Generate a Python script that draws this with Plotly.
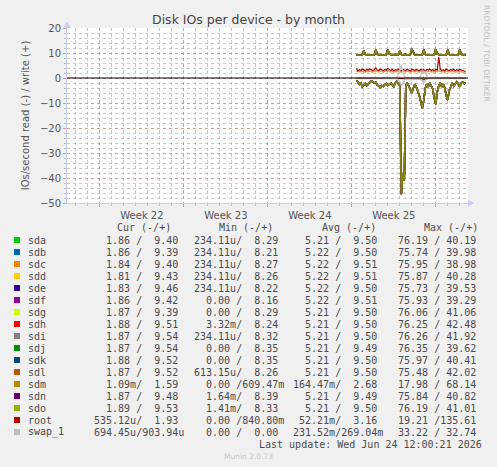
import pandas as pd
import plotly.graph_objects as go

# time axis of the collected samples (3 h steps)
times = pd.date_range("2026-06-15 09:00", "2026-06-24 12:00", freq="3h")

# sda..sdo (except sdm) run almost identical, one series for them
sd_write = [
    9.2, 9.3, 9.2, 9.4, 9.3, 11.0, 9.4, 9.2,
    9.3, 9.2, 9.4, 9.3, 9.2, 11.2, 9.5, 9.3,
    9.2, 9.3, 9.2, 9.4, 9.3, 11.4, 9.6, 9.3,
    9.2, 9.3, 9.4, 9.2, 9.3, 10.8, 9.4, 9.2,
    9.3, 9.5, 9.2, 9.3, 9.4, 11.6, 10.6, 9.3,
    9.2, 9.3, 9.2, 9.4, 9.3, 11.3, 9.4, 9.2,
    9.3, 9.2, 9.4, 9.3, 9.2, 11.5, 9.5, 9.3,
    9.2, 9.3, 9.2, 9.4, 9.3, 11.2, 9.4, 9.2,
    9.3, 9.2, 9.4, 9.3, 9.2, 11.4, 9.5, 9.3,
    9.2, 9.4,
]
sd_read = [
    1.0, 1.5, 2.5, 2.0, 3.5, 3.0, 2.2, 3.0,
    2.5, 1.8, 1.2, 1.5, 2.0, 1.6, 2.8, 3.2,
    3.8, 3.0, 3.4, 2.6, 2.2, 3.0, 2.4, 2.0,
    2.8, 3.4, 2.0, 1.4, 2.2, 3.0, 46.5, 38.0,
    41.0, 3.0, 2.0, 3.5, 4.5, 6.0, 4.0, 2.5,
    3.5, 5.0, 7.0, 9.5, 12.0, 9.0, 4.0, 2.5,
    3.5, 2.0, 3.0, 4.5, 8.0, 10.5, 5.5, 3.0,
    2.0, 3.5, 2.5, 4.0, 7.0, 8.8, 5.0, 3.0,
    2.0, 3.2, 2.4, 1.5, 2.5, 3.5, 2.0, 1.6,
    2.2, 1.8,
]
sdm_write = [
    2.9, 2.5, 2.7, 2.4, 2.8, 2.6, 2.3, 2.7,
    2.5, 2.8, 2.6, 2.3, 2.7, 3.0, 2.5, 2.4,
    2.8, 2.6, 2.3, 2.7, 2.5, 2.9, 2.6, 2.4,
    2.7, 2.3, 2.6, 2.5, 2.8, 2.4, 2.3, 2.7,
    2.6, 2.4, 2.8, 2.5, 2.3, 2.8, 2.6, 2.4,
    2.7, 2.5, 2.3, 2.8, 2.5, 2.6, 2.3, 2.7,
    2.5, 2.8, 2.4, 2.6, 2.3, 2.7, 2.5, 2.9,
    2.7, 2.4, 2.6, 2.3, 2.8, 2.5, 2.4, 2.7,
    2.5, 2.7, 2.3, 2.6, 2.4, 2.7, 2.5, 2.3,
    2.3, 2.1,
]
sdm_read = [
    0.2, 0.1, 0.2, 0.1, 0.2, 0.2, 0.1, 0.2,
    0.1, 0.2, 0.1, 0.2, 0.2, 0.1, 0.2, 0.1,
    0.2, 0.1, 0.2, 0.2, 0.1, 0.2, 0.1, 0.2,
    0.1, 0.2, 0.2, 0.1, 0.2, 0.3, 0.4, 0.3,
    0.2, 0.1, 0.2, 0.1, 0.2, 0.2, 0.1, 0.2,
    0.1, 0.2, 0.2, 0.3, 0.4, 0.3, 0.2, 0.1,
    0.2, 0.1, 0.2, 0.2, 0.1, 0.2, 0.1, 0.2,
    0.1, 0.2, 0.2, 0.1, 0.2, 0.1, 0.2, 0.1,
    0.2, 0.1, 0.2, 0.2, 0.1, 0.2, 0.1, 0.2,
    0.1, 0.2,
]
root_write = [
    3.8, 2.8, 3.4, 3.0, 3.6, 3.2, 2.9, 3.5,
    3.1, 3.7, 3.3, 2.9, 3.4, 4.0, 3.2, 3.0,
    3.6, 3.3, 2.9, 3.4, 3.1, 3.8, 3.2, 3.0,
    3.5, 2.8, 3.3, 3.1, 3.6, 3.0, 2.9, 3.4,
    3.2, 3.0, 3.5, 3.1, 2.8, 3.6, 3.3, 3.0,
    3.4, 3.2, 2.9, 3.5, 3.1, 3.3, 2.8, 3.4,
    3.2, 3.6, 3.0, 3.3, 2.9, 3.5, 3.2, 8.4,
    3.4, 3.0, 3.3, 2.9, 3.6, 3.2, 3.0, 3.4,
    3.1, 3.5, 2.9, 3.3, 3.0, 3.4, 3.2, 2.8,
    2.9, 2.6,
]
root_read = [
    0.1, 0.0, 0.1, 0.0, 0.1, 0.1, 0.0, 0.1,
    0.0, 0.1, 0.0, 0.1, 0.1, 0.0, 0.1, 0.0,
    0.1, 0.0, 0.1, 0.1, 0.0, 0.1, 0.0, 0.1,
    0.0, 0.1, 0.1, 0.0, 0.1, 0.2, 0.3, 0.2,
    0.1, 0.0, 0.1, 0.0, 0.1, 0.1, 0.0, 0.1,
    0.0, 0.1, 0.2, 0.3, 0.8, 0.6, 0.7, 0.2,
    0.1, 0.0, 0.1, 0.1, 0.0, 0.1, 0.0, 0.1,
    0.0, 0.1, 0.1, 0.0, 0.1, 0.0, 0.1, 0.0,
    0.1, 0.0, 0.1, 0.1, 0.0, 0.1, 0.0, 0.1,
    0.0, 0.1,
]
swap_write = [
    0.0, 0.0, 0.0, 0.0, 0.0, 0.0, 0.0, 0.0,
    0.0, 0.0, 0.0, 0.0, 0.0, 0.0, 0.0, 0.0,
    0.0, 0.0, 0.0, 0.0, 0.0, 0.0, 0.0, 0.0,
    0.0, 0.0, 0.0, 0.3, 1.5, 3.0, 5.0, 2.5,
    0.8, 0.1, 0.0, 0.0, 0.0, 0.0, 0.0, 0.0,
    0.0, 0.0, 0.2, 0.8, 3.0, 2.0, 2.8, 0.5,
    0.0, 0.0, 0.0, 0.0, 0.0, 0.0, 0.0, 0.0,
    0.0, 0.0, 0.0, 0.0, 0.0, 0.0, 0.0, 0.0,
    0.0, 0.0, 0.0, 0.0, 0.0, 0.0, 0.0, 0.0,
    0.0, 0.0,
]
swap_read = [
    0.0, 0.0, 0.0, 0.0, 0.0, 0.0, 0.0, 0.0,
    0.0, 0.0, 0.0, 0.0, 0.0, 0.0, 0.0, 0.0,
    0.0, 0.0, 0.0, 0.0, 0.0, 0.0, 0.0, 0.0,
    0.0, 0.0, 0.0, 0.2, 0.6, 1.5, 3.0, 2.0,
    1.0, 0.1, 0.0, 0.0, 0.0, 0.0, 0.0, 0.0,
    0.0, 0.0, 0.1, 0.4, 1.0, 1.8, 0.8, 0.2,
    0.0, 0.0, 0.0, 0.0, 0.0, 0.0, 0.0, 0.0,
    0.0, 0.0, 0.0, 0.0, 0.0, 0.0, 0.0, 0.0,
    0.0, 0.0, 0.0, 0.0, 0.0, 0.0, 0.0, 0.0,
    0.0, 0.0,
]

# legend table
names = ["sda", "sdb", "sdc", "sdd", "sde", "sdf", "sdg", "sdh", "sdi",
         "sdj", "sdk", "sdl", "sdm", "sdn", "sdo", "root", "swap_1"]
colors = ["#00CC00", "#0066B3", "#FF8000", "#FFCC00", "#330099", "#990099",
          "#CCFF00", "#FF0000", "#808080", "#008F00", "#00487D", "#B35A00",
          "#B38F00", "#6B006B", "#8FB300", "#B30000", "#BEBEBE"]
cur_read = ["1.86", "1.86", "1.84", "1.81", "1.83", "1.86", "1.87", "1.88", "1.87",
            "1.87", "1.88", "1.87", "1.09m", "1.87", "1.89", "535.12u", "694.45u"]
cur_write = ["9.40", "9.39", "9.40", "9.43", "9.46", "9.42", "9.39", "9.51", "9.54",
             "9.54", "9.52", "9.52", "1.59", "9.48", "9.53", "1.93", "903.94u"]
min_read = ["234.11u", "234.11u", "234.11u", "234.11u", "234.11u", "0.00", "0.00",
            "3.32m", "234.11u", "0.00", "0.00", "613.15u", "0.00", "1.64m", "1.41m",
            "0.00", "0.00"]
min_write = ["8.29", "8.21", "8.27", "8.26", "8.22", "8.16", "8.29", "8.24", "8.32",
             "8.35", "8.35", "8.26", "609.47m", "8.39", "8.33", "840.80m", "0.00"]
avg_read = ["5.21", "5.22", "5.22", "5.22", "5.22", "5.22", "5.21", "5.21", "5.21",
            "5.21", "5.21", "5.21", "164.47m", "5.21", "5.21", "52.21m", "231.52m"]
avg_write = ["9.50", "9.50", "9.51", "9.51", "9.50", "9.51", "9.50", "9.50", "9.50",
             "9.49", "9.50", "9.50", "2.68", "9.49", "9.50", "3.16", "269.04m"]
max_read = ["76.19", "75.74", "75.95", "75.87", "75.73", "75.93", "76.06", "76.25", "76.26",
            "76.35", "75.97", "75.48", "17.98", "75.84", "76.19", "19.21", "33.22"]
max_write = ["40.19", "39.98", "38.98", "40.28", "39.53", "39.29", "41.06", "42.48", "41.92",
             "39.62", "40.41", "42.02", "68.14", "40.82", "41.01", "135.61", "32.74"]

NB = "\u00a0"
MONO = "DejaVu Sans Mono"
SANS = "DejaVu Sans"
TXT = "#4a4a4a"

# plot area in pixels
L, R, T, B = 67, 468, 28, 203
W, H = 497, 467


def px(x):
    return (x - L) / (R - L)


def py(y):
    return (B - y) / (B - T)


def num(v):
    # rrdtool style "%6.2lf%s": number right-aligned to 6, then SI prefix or blank
    if v[-1].isalpha():
        return v[:-1].rjust(6) + v[-1]
    return v.rjust(6) + " "


def cell(r, w):
    return (num(r) + "/" + num(w)).replace(" ", NB)


fig = go.Figure()

series = {}
for n in names:
    if n == "sdm":
        series[n] = (sdm_read, sdm_write)
    elif n == "root":
        series[n] = (root_read, root_write)
    elif n == "swap_1":
        series[n] = (swap_read, swap_write)
    else:
        series[n] = (sd_read, sd_write)

for n, c in zip(names, colors):
    rd, wr = series[n]
    is_sd = n.startswith("sd")
    style = dict(color=c, width=1.5 if is_sd else 1.2)
    fig.add_trace(go.Scatter(x=times, y=[-v for v in rd], mode="lines", line=style,
                             opacity=0.7 if is_sd else 1, hoverinfo="skip"))
    fig.add_trace(go.Scatter(x=times, y=wr, mode="lines", line=style,
                             opacity=0.7 if is_sd else 1, hoverinfo="skip"))

red_grid = "rgba(225,120,120,0.8)"
gray_grid = "rgba(175,175,175,0.7)"
axis_col = "#c8cbf0"

shapes = [
    dict(type="line", xref="paper", yref="y", x0=0, x1=1, y0=0, y1=0,
         line=dict(color="black", width=1), layer="above"),
    dict(type="path", xref="paper", yref="paper", fillcolor=axis_col, line=dict(width=0),
         path=f"M {px(468)} {py(199.5)} L {px(474)} {py(203)} L {px(468)} {py(206.5)} Z"),
    dict(type="path", xref="paper", yref="paper", fillcolor=axis_col, line=dict(width=0),
         path=f"M {px(63.5)} {py(28)} L {px(67)} {py(21.5)} L {px(70.5)} {py(28)} Z"),
]

annotations = []
row0, step = 240, 12
headers = [("Cur (-/+)", 116), ("Min (-/+)", 218), ("Avg (-/+)", 321), ("Max (-/+)", 423)]
for h, x0 in headers:
    annotations.append(dict(text=h.replace(" ", NB), x=px(x0), y=py(227.3), xref="paper",
                            yref="paper", xanchor="left", yanchor="middle", showarrow=False,
                            borderpad=0, font=dict(family=MONO, size=10, color=TXT)))

cols = [(cur_read, cur_write, 184.5), (min_read, min_write, 284.5),
        (avg_read, avg_write, 384), (max_read, max_write, 483)]
for i, (n, c) in enumerate(zip(names, colors)):
    yc = row0 + i * step
    shapes.append(dict(type="rect", xref="paper", yref="paper", x0=px(14), x1=px(20),
                       y0=py(yc + 3), y1=py(yc - 3), fillcolor=c, line=dict(width=0)))
    annotations.append(dict(text=n, x=px(26.5), y=py(yc), xref="paper", yref="paper",
                            xanchor="left", yanchor="middle", showarrow=False, borderpad=0,
                            font=dict(family=MONO, size=10, color=TXT)))
    for rd, wr, xr in cols:
        annotations.append(dict(text=cell(rd[i], wr[i]), x=px(xr), y=py(yc), xref="paper",
                                yref="paper", xanchor="right", yanchor="middle",
                                showarrow=False, borderpad=0,
                                font=dict(family=MONO, size=10, color=TXT)))

annotations.append(dict(text="Last update: Wed Jun 24 12:00:21 2026".replace(" ", NB),
                        x=px(483), y=py(444), xref="paper", yref="paper", xanchor="right",
                        yanchor="middle", showarrow=False, borderpad=0,
                        font=dict(family=MONO, size=10, color=TXT)))
annotations.append(dict(text="Munin 2.0.73", x=px(248), y=py(456), xref="paper", yref="paper",
                        xanchor="center", yanchor="middle", showarrow=False,
                        font=dict(family=SANS, size=7.5, color="#c8c8c8")))
annotations.append(dict(text="RRDTOOL / TOBI OETIKER", x=px(487), y=py(53), xref="paper",
                        yref="paper", xanchor="center", yanchor="middle", textangle=90,
                        showarrow=False, font=dict(family=SANS, size=7.5, color="#c0c0c0")))

fig.update_layout(
    width=W, height=H, autosize=False,
    margin=dict(l=L, r=W - R, t=T, b=H - B, pad=0),
    paper_bgcolor="#f0f0f0", plot_bgcolor="white",
    showlegend=False,
    title=dict(text="Disk IOs per device - by month", x=0.5, xanchor="center",
               y=1 - 19.5 / H, yanchor="middle",
               font=dict(family=SANS, size=12.5, color="#444")),
    xaxis=dict(
        type="date", range=["2026-05-22 06:00", "2026-06-24 16:30"],
        tick0="2026-05-25", dtick=7 * 86400000, ticklabelmode="period",
        tickformat="Week %V", showgrid=True, gridcolor=red_grid, griddash="dot",
        gridwidth=1, showline=True, linecolor=axis_col, linewidth=1,
        ticks="outside", ticklen=3, tickcolor=red_grid, zeroline=False,
        tickfont=dict(family=SANS, size=10, color="#555"),
        minor=dict(dtick=86400000, tick0="2026-05-25", showgrid=True,
                   gridcolor=gray_grid, griddash="dot", ticks="outside",
                   ticklen=2, tickcolor="#bbb"),
        fixedrange=True),
    yaxis=dict(
        range=[-50, 20], tick0=0, dtick=10, showgrid=True, gridcolor=red_grid,
        griddash="dot", showline=True, linecolor=axis_col, linewidth=1,
        ticks="outside", ticklen=3, tickcolor=red_grid, zeroline=False,
        tickfont=dict(family=SANS, size=10, color="#555"),
        minor=dict(dtick=2, showgrid=True, gridcolor=gray_grid, griddash="dot",
                   ticks="outside", ticklen=2, tickcolor="#bbb"),
        title=dict(text="IOs/second read (-) / write (+)", standoff=8,
                   font=dict(family=SANS, size=10, color="#555")),
        fixedrange=True),
    shapes=shapes,
    annotations=annotations,
)

# the page's default body margin would shift the 497x467 figure off the window
fig.write_html("out.html", config={"displayModeBar": False},
               post_script="document.body.style.margin='0';")
